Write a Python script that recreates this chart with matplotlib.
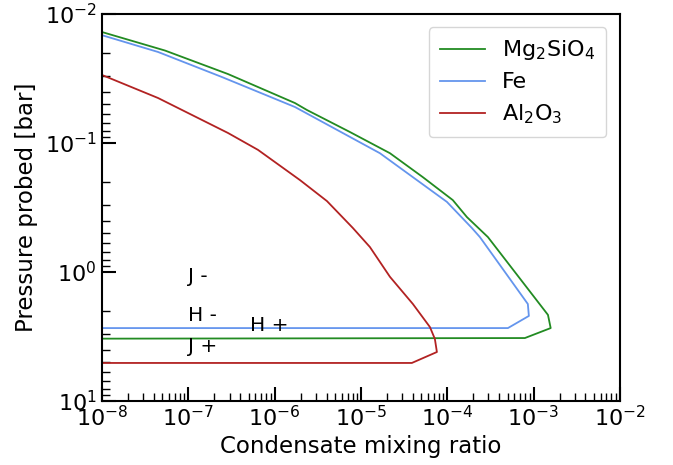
import numpy as np
import matplotlib
matplotlib.use("Agg")
import matplotlib.pyplot as plt

# Condensate mixing ratio vs pressure
mg2sio4_x = [1e-8, 5.37e-8, 2.88e-7, 1.72e-6, 2.37e-6, 7.46e-6, 2.17e-5, 5.22e-5,
             1.16e-4, 1.69e-4, 2.96e-4, 1.47e-3, 1.58e-3, 7.94e-4, 1e-10]
mg2sio4_p = [0.0138, 0.0192, 0.0292, 0.049, 0.0555, 0.0822, 0.120, 0.184,
             0.277, 0.375, 0.536, 2.15, 2.72, 3.25, 3.30]

fe_x = [1e-8, 4.46e-8, 2.45e-7, 1.72e-6, 1.66e-5, 4.46e-5, 9.91e-5,
        1.93e-4, 2.39e-4, 8.59e-4, 8.83e-4, 5.05e-4, 1e-10]
fe_p = [0.0146, 0.0197, 0.0308, 0.0526, 0.120, 0.194, 0.286,
        0.456, 0.536, 1.77, 2.19, 2.72, 2.72]

al2o3_x = [1e-8, 4.46e-8, 2.88e-7, 6.41e-7, 1.97e-6, 4.04e-6, 8.07e-6,
           1.27e-5, 2.17e-5, 4.0e-5, 6.30e-5, 7.19e-5, 7.59e-5, 3.89e-5, 1e-10]
al2o3_p = [0.0297, 0.0448, 0.0836, 0.113, 0.194, 0.282, 0.456,
           0.640, 1.09, 1.77, 2.67, 3.30, 4.17, 5.07, 5.07]

band_labels = ["J -", "H -", "H +", "J +"]
band_x = [1e-7, 1e-7, 5.2e-7, 1e-7]
band_p = [1.09, 2.19, 2.59, 3.75]

fig = plt.figure(figsize=(6.73, 4.65), dpi=100)
ax = fig.add_axes([0.1516, 0.1376, 0.7694, 0.8323])

ax.plot(mg2sio4_x, mg2sio4_p, color="forestgreen", lw=1.3, label=r"Mg$_2$SiO$_4$")
ax.plot(fe_x, fe_p, color="cornflowerblue", lw=1.3, label="Fe")
ax.plot(al2o3_x, al2o3_p, color="firebrick", lw=1.3, label=r"Al$_2$O$_3$")

for lab, x, p in zip(band_labels, band_x, band_p):
    ax.text(x, p, lab, fontsize=14.5, ha="left", va="center")

ax.set_xscale("log")
ax.set_yscale("log")
ax.set_xlim(1e-8, 1e-2)
ax.set_ylim(1e1, 1e-2)

ax.set_xlabel("Condensate mixing ratio", fontsize=16.5, labelpad=3)
ax.set_ylabel("Pressure probed [bar]", fontsize=16.5, labelpad=5)
ax.tick_params(which="major", direction="in", length=10, width=1.5, labelsize=16, pad=4)
ax.tick_params(axis="x", which="major", pad=3)
ax.tick_params(which="minor", direction="in", length=6, width=1.0)
for s in ax.spines.values():
    s.set_linewidth(1.5)

ax.legend(loc="upper right", fontsize=16, handlelength=2.0, borderpad=0.5,
          labelspacing=0.45, handletextpad=0.8, borderaxespad=0.6)

fig.savefig("out.png", dpi=100)
